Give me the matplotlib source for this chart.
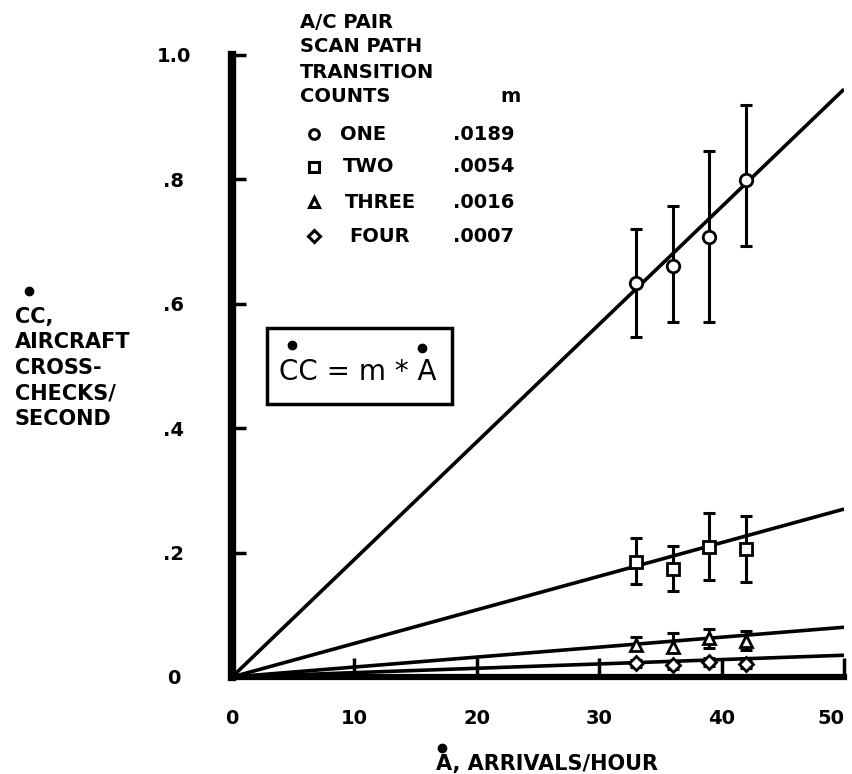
import matplotlib.pyplot as plt
from matplotlib.lines import Line2D
from matplotlib.patches import Rectangle
import numpy as np

# Arrival rates (per hour) at which crosschecks were measured
arrivals = [33, 36, 39, 42]

series_names = ["ONE", "TWO", "THREE", "FOUR"]
slopes = [0.0189, 0.0054, 0.0016, 0.0007]
slope_labels = [".0189", ".0054", ".0016", ".0007"]
markers = ["o", "s", "^", "D"]

# Mean crosscheck rate and error bar ends for each series
one_mean = [0.633, 0.661, 0.707, 0.799]
one_low = [0.547, 0.571, 0.571, 0.693]
one_high = [0.720, 0.757, 0.846, 0.920]

two_mean = [0.185, 0.174, 0.209, 0.206]
two_low = [0.150, 0.138, 0.156, 0.153]
two_high = [0.223, 0.210, 0.264, 0.259]

three_mean = [0.051, 0.048, 0.062, 0.058]
three_low = [0.043, 0.040, 0.047, 0.043]
three_high = [0.064, 0.070, 0.077, 0.074]

four_mean = [0.022, 0.019, 0.024, 0.021]
four_low = [0.016, 0.013, 0.018, 0.015]
four_high = [0.028, 0.025, 0.030, 0.027]

means = [one_mean, two_mean, three_mean, four_mean]
lows = [one_low, two_low, three_low, four_low]
highs = [one_high, two_high, three_high, four_high]

x_ticks = [0, 10, 20, 30, 40, 50]
y_ticks = [0, 0.2, 0.4, 0.6, 0.8, 1.0]
y_tick_labels = ["0", ".2", ".4", ".6", ".8", "1.0"]

W, H = 853, 774
plt.rcParams["font.family"] = "DejaVu Sans"
plt.rcParams["font.weight"] = "bold"

fig = plt.figure(figsize=(W / 100, H / 100), dpi=100)
ax = fig.add_axes([232 / W, 1 - 677 / H, (844 - 232) / W, (677 - 55) / H])


def px(x, y):
    # figure pixel position -> figure fraction
    return x / W, 1 - y / H


# fitted lines CC = m * A
xs = np.array([0, 50])
for m in slopes:
    ax.plot(xs, m * xs, color="black", lw=2.6, solid_capstyle="butt", zorder=2)

# measured points with error bars
for mean, lo, hi, mk in zip(means, lows, highs, markers):
    mean = np.array(mean)
    yerr = [mean - np.array(lo), np.array(hi) - mean]
    ax.errorbar(arrivals, mean, yerr=yerr, fmt="none", ecolor="black",
                elinewidth=2.2, capsize=4, capthick=2.2, zorder=3)
    ax.plot(arrivals, mean, linestyle="none", marker=mk, ms=9 if mk != "D" else 7,
            mfc="white", mec="black", mew=2, zorder=4)

ax.set_xlim(0, 50)
ax.set_ylim(0, 1.0)
for side in ("top", "right"):
    ax.spines[side].set_visible(False)
ax.spines["left"].set_linewidth(6)
ax.spines["bottom"].set_linewidth(4.5)

ax.set_xticks(x_ticks)
ax.set_xticklabels([str(t) for t in x_ticks])
ax.set_yticks(y_ticks)
ax.set_yticklabels(y_tick_labels)
ax.tick_params(axis="x", direction="in", length=14, width=2.5, pad=23, labelsize=14)
ax.tick_params(axis="y", direction="in", length=10, width=2.5, pad=42, labelsize=14)
for lbl in ax.get_yticklabels():
    lbl.set_horizontalalignment("center")
# keep the last x label inside the figure edge
ax.get_xticklabels()[-1].set_horizontalalignment("right")

# axis titles
fig.text(*px(15, 368), "CC,\nAIRCRAFT\nCROSS-\nCHECKS/\nSECOND", fontsize=15,
         ha="left", va="center", linespacing=1.35)
fig.add_artist(Line2D([px(29, 291)[0]], [px(29, 291)[1]], marker="o", ms=6,
                      color="black", transform=fig.transFigure))
fig.text(*px(436, 764), "A, ARRIVALS/HOUR", fontsize=15, ha="left", va="center")
fig.add_artist(Line2D([px(442, 748)[0]], [px(442, 748)[1]], marker="o", ms=6,
                      color="black", transform=fig.transFigure))

# key
for i, line in enumerate(["A/C PAIR", "SCAN PATH", "TRANSITION", "COUNTS"]):
    fig.text(*px(300, 22 + i * 25), line, fontsize=14, ha="left", va="center")
fig.text(*px(500, 96), "m", fontsize=14, ha="left", va="center")
row_y = [134, 167, 202, 236]
name_x = [340, 343, 345, 349]
for name, mk, lab, y, nx in zip(series_names, markers, slope_labels, row_y, name_x):
    fx, fy = px(314, y)
    fig.add_artist(Line2D([fx], [fy], marker=mk, ms=7 if mk != "D" else 6,
                          mfc="white", mec="black", mew=2.2, transform=fig.transFigure))
    fig.text(*px(nx, y), name, fontsize=14, ha="left", va="center")
    fig.text(*px(453, y), lab, fontsize=14, ha="left", va="center")

# equation box
bx0, by0 = px(267, 404)
bx1, by1 = px(452, 328)
fig.add_artist(Rectangle((bx0, by0), bx1 - bx0, by1 - by0, fill=True, fc="white",
                         ec="black", lw=2.5, transform=fig.transFigure, zorder=5))
fig.text(*px(358, 372), "CC = m * A", fontsize=20, fontweight="normal",
         ha="center", va="center", zorder=6)
for dx, dy in [(292, 345), (422, 348)]:
    fig.add_artist(Line2D([px(dx, dy)[0]], [px(dx, dy)[1]], marker="o", ms=6,
                          color="black", transform=fig.transFigure, zorder=6))

fig.savefig("out.png", dpi=100)
